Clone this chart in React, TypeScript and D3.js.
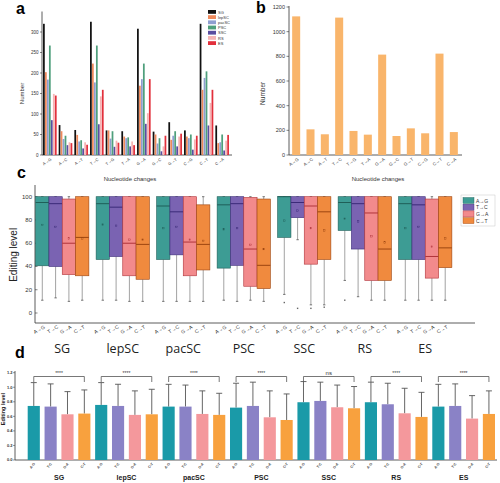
import React from 'react';
import * as d3 from 'd3';

// ---------- Panel a / b data ----------
const cats = ['A→G', 'A→C', 'A→T', 'T→C', 'T→G', 'T→A', 'G→A', 'G→C', 'G→T', 'C→G', 'C→T', 'C→A'];
const tissues = ['SG', 'lepSC', 'pacSC', 'PSC', 'SSC', 'RS', 'ES'];
const tissueColors = ['#111111', '#ef8a5c', '#8f9ed0', '#4f9f7c', '#5a4ea0', '#f5b5b5', '#e2303c'];
const seriesSG = [320, 73, 61, 325, 60, 58, 308, 57, 80, 60, 320, 72];
const seriesLepSC = [202, 58, 49, 223, 60, 45, 169, 50, 37, 45, 159, 29];
const seriesPacSC = [184, 39, 33, 177, 40, 41, 185, 28, 47, 41, 188, 31];
const seriesPSC = [267, 47, 36, 267, 58, 43, 223, 41, 58, 50, 204, 50];
const seriesSSC = [85, 24, 16, 75, 20, 21, 76, 9, 21, 13, 72, 11];
const seriesRS = [149, 31, 31, 143, 35, 33, 102, 21, 45, 38, 127, 35];
const seriesES = [145, 29, 25, 159, 30, 24, 185, 47, 52, 47, 159, 49];
const seriesA = [seriesSG, seriesLepSC, seriesPacSC, seriesPSC, seriesSSC, seriesRS, seriesES];
const totalsB = [1124, 208, 168, 1114, 195, 165, 814, 154, 216, 176, 822, 186];
const ticksA = [0, 50, 100, 150, 200, 250, 300];
const ticksB = [0, 200, 400, 600, 800, 1000, 1200];

// ---------- Panel c data: [lowWhisker, q1, median, q3, highWhisker, mean] ----------
const changes = ['A→G', 'T→C', 'G→A', 'C→T'];
const changeColors = ['#3d9c94', '#7a63b2', '#f28a8c', '#f08a3e'];
const medianColors = ['#1f5f58', '#3b2a78', '#b0343a', '#9c4510'];
const boxSG = [[11, 40.6, 95, 100, 100, 75.7], [13, 40, 94, 100, 100, 74], [10, 33, 60, 98, 100, 64], [11, 32, 65, 100, 100, 64]];
const boxLepSC = [[11, 46, 94, 100, 100, 76], [11, 48.6, 91, 100, 100, 75], [10, 32, 60, 100, 100, 63], [10, 29, 59, 100, 100, 63]];
const boxPacSC = [[10, 46, 92, 100, 100, 73], [10, 50, 87, 100, 100, 74], [10, 32, 61, 100, 100, 63], [10, 37, 59, 93, 100, 62]];
const boxPSC = [[11, 38.6, 93, 100, 100, 72], [10, 41, 94, 100, 100, 73], [11, 23, 55, 99.4, 100, 58.6], [10, 21, 41, 98, 100, 55]];
const boxSSC = [[16, 65, 100, 100, 100, 79.4], [63, 82, 95, 100, 100, 88], [7, 42, 92, 100, 100, 73], [7, 46, 87, 100, 100, 71]];
const boxRS = [[28, 71, 95, 100, 100, 81], [14, 55, 94, 100, 100, 78.6], [11, 28, 86, 100, 100, 66], [11, 28, 55, 100, 100, 60.6]];
const boxES = [[11, 46, 94, 100, 100, 73], [11, 46, 93, 100, 100, 74], [11, 30, 48.6, 98, 100, 57], [11, 39, 56, 100, 100, 64]];
const boxesC = [boxSG, boxLepSC, boxPacSC, boxPSC, boxSSC, boxRS, boxES];
const outliersC = [[[], [], [], []], [[], [], [], []], [[], [], [], []], [[], [], [], []], [[9], [4], [4], [5]], [[11], [], [], []], [[], [], [], []]];
const ticksC = [0, 20, 40, 60, 80, 100];

// ---------- Panel d data ----------
const changesD = ['A-G', 'T-C', 'G-A', 'C-T'];
const colorsD = ['#1a9aa8', '#8a82c6', '#f4989c', '#f8a13e'];
const meanSG = [0.743, 0.734, 0.628, 0.638];
const meanLepSC = [0.757, 0.743, 0.62, 0.628];
const meanPacSC = [0.734, 0.734, 0.633, 0.62];
const meanPSC = [0.72, 0.743, 0.587, 0.55];
const meanSSC = [0.794, 0.812, 0.725, 0.711];
const meanRS = [0.794, 0.766, 0.642, 0.592];
const meanES = [0.734, 0.743, 0.569, 0.633];
const sdSG = [0.321, 0.312, 0.312, 0.325];
const sdLepSC = [0.307, 0.298, 0.33, 0.344];
const sdPacSC = [0.306, 0.296, 0.317, 0.297];
const sdPSC = [0.335, 0.327, 0.363, 0.358];
const sdSSC = [0.284, 0.258, 0.305, 0.299];
const sdRS = [0.276, 0.289, 0.344, 0.338];
const sdES = [0.306, 0.303, 0.316, 0.317];
const meansD = [meanSG, meanLepSC, meanPacSC, meanPSC, meanSSC, meanRS, meanES];
const sdsD = [sdSG, sdLepSC, sdPacSC, sdPSC, sdSSC, sdRS, sdES];
const sigD = ['****', '****', '****', '****', 'ns', '****', '****'];
const ticksD = [0, 0.2, 0.4, 0.6, 0.8, 1.0, 1.2];

const FONT = 'Liberation Sans, Arial, sans-serif';

function PanelA() {
  const x0 = d3.scaleBand().domain(cats).range([42, 230]).paddingInner(0.1).paddingOuter(0.05);
  const x1 = d3.scaleBand().domain(tissues).range([0, x0.bandwidth()]).padding(0.12);
  const y = d3.scaleLinear().domain([0, 350]).range([155, 11.5]);
  return (
    <g fontFamily={FONT}>
      <text x={16} y={14} fontSize={16} fontWeight="bold">a</text>
      <line x1={42} x2={42} y1={y(350)} y2={155} stroke="#333" strokeWidth={0.8} />
      <line x1={42} x2={232} y1={155} y2={155} stroke="#333" strokeWidth={0.8} />
      {ticksA.map(t => (
        <g key={t}>
          <line x1={40} x2={42} y1={y(t)} y2={y(t)} stroke="#333" strokeWidth={0.6} />
          <text x={38.5} y={y(t) + 1.5} fontSize={4.5} textAnchor="end" fill="#333">{t}</text>
        </g>
      ))}
      <text transform={`translate(24,${y(150)}) rotate(-90)`} fontSize={6} textAnchor="middle" fill="#333">Number</text>
      {seriesA.map((s, ti) => s.map((v, ci) => (
        <rect key={ti + '-' + ci} x={(x0(cats[ci]) as number) + (x1(tissues[ti]) as number)} y={y(v)}
          width={x1.bandwidth()} height={155 - y(v)} fill={tissueColors[ti]} />
      )))}
      {cats.map(c => (
        <text key={c} transform={`translate(${(x0(c) as number) + x0.bandwidth() / 2 + 2},${160}) rotate(-35)`}
          fontSize={4} textAnchor="end" fill="#333">{c}</text>
      ))}
      <text x={130} y={181} fontSize={6} textAnchor="middle" fill="#333">Nucleotide changes</text>
      {tissues.map((t, i) => (
        <g key={t}>
          <rect x={208} y={10 + i * 5.2} width={8} height={3.8} fill={tissueColors[i]} />
          <text x={218} y={13.5 + i * 5.2} fontSize={4} fill="#333">{t}</text>
        </g>
      ))}
    </g>
  );
}

function PanelB() {
  const x = d3.scaleBand().domain(cats).range([289, 461]).paddingInner(0.44).paddingOuter(0.22);
  const y = d3.scaleLinear().domain([0, 1200]).range([155, 7]);
  return (
    <g fontFamily={FONT}>
      <text x={256} y={13} fontSize={16} fontWeight="bold">b</text>
      <line x1={289} x2={289} y1={6} y2={155} stroke="#333" strokeWidth={0.8} />
      <line x1={289} x2={462} y1={155} y2={155} stroke="#333" strokeWidth={0.8} />
      {ticksB.map(t => (
        <g key={t}>
          <line x1={286.5} x2={289} y1={y(t)} y2={y(t)} stroke="#333" strokeWidth={0.6} />
          <text x={285} y={y(t) + 2} fontSize={5.5} textAnchor="end" fill="#333">{t}</text>
        </g>
      ))}
      <text transform={`translate(265,${y(500)}) rotate(-90)`} fontSize={6.5} textAnchor="middle" fill="#333">Number</text>
      {totalsB.map((v, i) => (
        <rect key={i} x={x(cats[i])} y={y(v)} width={x.bandwidth()} height={155 - y(v)} fill="#f9b56b" />
      ))}
      {cats.map(c => (
        <text key={c} transform={`translate(${(x(c) as number) + x.bandwidth() / 2 + 3},${160}) rotate(-35)`}
          fontSize={4.5} textAnchor="end" fill="#333">{c}</text>
      ))}
      <text x={378} y={181} fontSize={6} textAnchor="middle" fill="#333">Nucleotide changes</text>
    </g>
  );
}

function PanelC() {
  const xg = d3.scaleBand().domain(tissues).range([32, 455.5]).paddingInner(0.12).paddingOuter(0.06);
  const xs = d3.scaleBand().domain(changes).range([0, xg.bandwidth()]).padding(0);
  const y = d3.scaleLinear().domain([0, 100]).range([313, 196.7]);
  return (
    <g fontFamily={FONT}>
      <text x={17} y={178} fontSize={16} fontWeight="bold">c</text>
      <line x1={35} x2={35} y1={185} y2={323} stroke="#333" strokeWidth={0.8} />
      <line x1={35} x2={475} y1={323} y2={323} stroke="#333" strokeWidth={0.8} />
      {ticksC.map(t => (
        <g key={t}>
          <line x1={35} x2={37.5} y1={y(t)} y2={y(t)} stroke="#333" strokeWidth={0.6} />
          <text x={32} y={y(t) + 2} fontSize={6} textAnchor="end" fill="#333">{t}</text>
        </g>
      ))}
      <text transform={`translate(17,${y(50)}) rotate(-90)`} fontSize={10} textAnchor="middle" fill="#222">Editing level</text>
      {boxesC.map((grp, gi) => grp.map((b, ci) => {
        const x0 = (xg(tissues[gi]) as number) + (xs(changes[ci]) as number);
        const w = xs.bandwidth();
        const cx = x0 + w / 2;
        const [lo, q1, med, q3, hi, mean] = b;
        return (
          <g key={gi + '-' + ci}>
            <line x1={cx} x2={cx} y1={y(q1)} y2={y(lo)} stroke="#8a8a8a" strokeWidth={0.8} />
            <line x1={cx} x2={cx} y1={y(q3)} y2={y(hi)} stroke="#8a8a8a" strokeWidth={0.8} />
            <line x1={cx - 1.2} x2={cx + 1.2} y1={y(lo)} y2={y(lo)} stroke="#555" strokeWidth={0.8} />
            <line x1={cx - 1.2} x2={cx + 1.2} y1={y(hi)} y2={y(hi)} stroke="#555" strokeWidth={0.8} />
            <rect x={x0} y={y(q3)} width={w} height={y(q1) - y(q3)} fill={changeColors[ci]} stroke={medianColors[ci]} strokeWidth={0.6} />
            <line x1={x0} x2={x0 + w} y1={y(med)} y2={y(med)} stroke={medianColors[ci]} strokeWidth={1} />
            <rect x={cx - 0.8} y={y(mean) - 0.8} width={1.6} height={1.6} fill="none" stroke={medianColors[ci]} strokeWidth={0.4} />
            {outliersC[gi][ci].map((o, k) => (
              <rect key={k} x={cx - 0.7} y={y(o) - 0.7} width={1.4} height={1.4} fill="#666" />
            ))}
            <text transform={`translate(${cx + 3},${328}) rotate(-30)`} fontSize={5} textAnchor="end" fill="#333">{changes[ci]}</text>
          </g>
        );
      }))}
      {tissues.map(t => (
        <text key={t} x={(xg(t) as number) + xg.bandwidth() / 2} y={353} fontSize={12.5} textAnchor="middle" fill="#222"
          fontFamily="Open Sans, sans-serif">{t}</text>
      ))}
      <text x={377} y={181} fontSize={6} textAnchor="middle" fill="#333" opacity={0}>.</text>
      <rect x={461} y={195} width={34} height={31} fill="none" stroke="#bbb" strokeWidth={0.4} />
      {changes.map((c, i) => (
        <g key={c}>
          <rect x={463} y={197.5 + i * 6.7} width={11} height={6} fill={changeColors[i]} stroke={medianColors[i]} strokeWidth={0.4} />
          <text x={476} y={202.5 + i * 6.7} fontSize={5} fill="#333">{c}</text>
        </g>
      ))}
      <text x={15} y={358} fontSize={16} fontWeight="bold">d</text>
    </g>
  );
}

function PanelD() {
  const keys: string[] = [];
  tissues.forEach(t => changesD.forEach(c => keys.push(t + '|' + c)));
  const x = d3.scaleBand().domain(keys).range([27.7, 495]).paddingInner(0.28).paddingOuter(0);
  const y = d3.scaleLinear().domain([0, 1.2]).range([460, 372.7]);
  return (
    <g fontFamily={FONT}>
      <line x1={15} x2={15} y1={371} y2={460} stroke="#333" strokeWidth={0.8} />
      <line x1={15} x2={497} y1={460} y2={460} stroke="#333" strokeWidth={0.8} />
      {ticksD.map(t => (
        <g key={t}>
          <line x1={13} x2={15} y1={y(t)} y2={y(t)} stroke="#333" strokeWidth={0.5} />
          <text x={12.5} y={y(t) + 1.4} fontSize={4} fontWeight="bold" textAnchor="end" fill="#333">{t.toFixed(1)}</text>
        </g>
      ))}
      <text transform={`translate(5,${y(0.7)}) rotate(-90)`} fontSize={5.5} fontWeight="bold" textAnchor="middle" fill="#222">Editing level</text>
      {meansD.map((grp, gi) => grp.map((m, ci) => {
        const k = tissues[gi] + '|' + changesD[ci];
        const x0 = x(k) as number;
        const cx = x0 + x.bandwidth() / 2;
        const top = m + sdsD[gi][ci];
        return (
          <g key={k}>
            <line x1={cx} x2={cx} y1={y(m)} y2={y(top)} stroke="#555" strokeWidth={0.9} />
            <line x1={cx - 3} x2={cx + 3} y1={y(top)} y2={y(top)} stroke="#555" strokeWidth={0.9} />
            <rect x={x0} y={y(m)} width={x.bandwidth()} height={460 - y(m)} fill={colorsD[ci]} />
            <text transform={`translate(${cx + 1.5},${464}) rotate(-50)`} fontSize={3.5} fontWeight="bold" textAnchor="end" fill="#333">{changesD[ci]}</text>
          </g>
        );
      }))}
      {tissues.map((t, gi) => {
        const a = (x(t + '|A-G') as number) + x.bandwidth() / 2;
        const b = (x(t + '|C-T') as number) + x.bandwidth() / 2;
        return (
          <g key={t}>
            <path d={`M${a},382 L${a},376.5 L${b},376.5 L${b},382`} fill="none" stroke="#555" strokeWidth={0.8} />
            <text x={(a + b) / 2} y={sigD[gi] === 'ns' ? 374.5 : 375} fontSize={sigD[gi] === 'ns' ? 6 : 5} textAnchor="middle" fill="#333">{sigD[gi]}</text>
            <text x={(a + b) / 2} y={480} fontSize={7} fontWeight="bold" textAnchor="middle" fill="#222">{t}</text>
          </g>
        );
      })}
    </g>
  );
}

export default function App() {
  return (
    <svg width={500} height={483} style={{ position: 'absolute', left: 0, top: 0, background: '#fff' }}>
      <rect width={500} height={483} fill="#fff" />
      <PanelA />
      <PanelB />
      <PanelC />
      <PanelD />
    </svg>
  );
}
